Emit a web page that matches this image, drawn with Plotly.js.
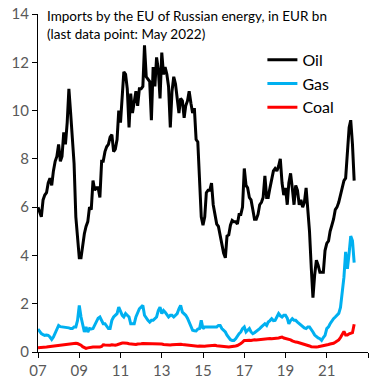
<!DOCTYPE html>
<html>
<head>
<meta charset="utf-8">
<script src="https://cdn.plot.ly/plotly-3.0.1.min.js"></script>
<style>html,body{margin:0;padding:0;background:#fff;}#chart{width:383px;height:381px;}</style>
</head>
<body>
<div id="chart"></div>
<script>
// Monthly data, Jan 2007 .. May 2022, EUR bn
const startYear = 2007;
const oil = [
  6.0, 5.8, 5.6, 6.3, 6.5, 6.6, 7.0, 7.2, 6.9, 7.5, 7.9, 8.1,
  8.6, 7.9, 8.1, 9.1, 8.6, 9.5, 10.9, 9.9, 8.8, 7.8, 5.6, 4.8,
  3.9, 3.9, 4.5, 4.9, 5.2, 5.4, 6.0, 5.9, 7.1, 6.7, 6.8, 6.8,
  6.4, 7.9, 7.9, 8.3, 8.5, 8.6, 8.9, 9.0, 8.3, 8.4, 8.8, 10.0,
  9.5, 10.7, 11.6, 11.5, 10.9, 9.3, 10.7, 9.9, 10.3, 10.8, 10.2, 10.9,
  10.9, 11.0, 12.7, 11.4, 11.3, 11.2, 9.6, 11.8, 11.0, 12.2, 11.7, 10.5,
  12.4, 11.5, 11.8, 11.5, 11.0, 9.3, 10.8, 11.4, 11.1, 10.6, 9.9, 10.5,
  10.4, 9.7, 10.2, 10.4, 10.8, 10.3, 9.9, 10.1, 8.8, 8.7, 7.3, 5.6,
  5.25, 5.6, 6.6, 6.7, 6.7, 7.0, 6.1, 5.7, 5.3, 5.2, 4.8, 4.4,
  4.1, 3.9, 4.8, 4.85, 5.25, 5.45, 5.4, 5.4, 5.3, 5.7, 5.7, 6.0,
  7.6, 6.9, 6.8, 6.4, 6.3, 5.9, 5.5, 5.5, 5.7, 6.1, 6.2, 6.4,
  7.3, 6.4, 6.4, 6.8, 7.2, 7.5, 7.6, 7.5, 7.7, 8.0, 7.0, 6.5,
  6.8, 6.1, 7.0, 7.4, 6.8, 6.1, 6.9, 6.7, 6.1, 6.3, 6.0, 6.2,
  6.8, 6.0, 5.0, 3.5, 2.25, 3.2, 3.8, 3.6, 3.3, 3.3, 3.3, 4.2,
  4.5, 4.6, 5.0, 5.25, 5.5, 5.9, 6.0, 6.2, 6.5, 6.9, 7.1, 7.2,
  8.3, 9.3, 9.6, 8.6, 7.1
];
const gas = [
  0.95, 0.85, 0.76, 0.72, 0.69, 0.70, 0.69, 0.62, 0.52, 0.62, 0.76, 0.95,
  1.10, 1.05, 1.04, 1.03, 1.04, 1.00, 1.00, 0.97, 0.97, 1.04, 1.04, 1.31,
  1.93, 1.45, 1.17, 0.83, 1.04, 0.83, 0.97, 0.95, 0.97, 1.10, 1.24, 1.40,
  1.45, 1.30, 1.17, 1.17, 1.04, 0.97, 0.97, 1.31, 1.45, 1.52, 1.59, 1.86,
  1.65, 1.52, 1.45, 1.59, 1.52, 1.45, 1.17, 1.17, 1.17, 1.45, 1.65, 1.79,
  1.86, 1.93, 1.52, 1.38, 1.31, 1.24, 1.31, 1.31, 1.38, 1.45, 1.72, 1.86,
  1.59, 1.72, 1.65, 1.52, 1.45, 1.52, 1.52, 1.45, 1.52, 1.59, 1.79, 1.93,
  1.65, 1.59, 1.52, 1.40, 1.24, 1.10, 0.90, 0.88, 0.87, 0.95, 0.97, 1.31,
  0.97, 1.04, 1.04, 1.07, 1.07, 1.07, 1.07, 1.07, 1.04, 1.10, 1.10, 0.97,
  0.90, 0.83, 0.70, 0.60, 0.51, 0.48, 0.48, 0.55, 0.69, 0.76, 0.83, 0.97,
  1.04, 0.83, 0.90, 0.97, 0.83, 0.76, 0.80, 0.85, 0.90, 0.97, 1.04, 1.10,
  1.17, 1.10, 1.24, 1.30, 1.38, 1.30, 1.31, 1.45, 1.59, 1.50, 1.45, 1.52,
  1.52, 1.40, 1.17, 1.30, 1.38, 1.31, 1.31, 1.24, 1.17, 1.10, 1.04, 1.00,
  0.97, 1.04, 1.04, 0.90, 0.83, 0.70, 0.62, 0.58, 0.55, 0.48, 0.60, 0.69,
  0.97, 1.04, 1.17, 1.30, 1.38, 1.45, 1.52, 1.60, 1.85, 2.50, 3.10, 4.15,
  3.45, 4.10, 4.80, 4.60, 3.70
];
const coal = [
  0.18, 0.18, 0.19, 0.20, 0.20, 0.21, 0.22, 0.23, 0.24, 0.24, 0.25, 0.26,
  0.27, 0.27, 0.28, 0.30, 0.30, 0.31, 0.32, 0.33, 0.34, 0.35, 0.36, 0.35,
  0.33, 0.28, 0.22, 0.17, 0.15, 0.17, 0.19, 0.20, 0.21, 0.21, 0.20, 0.21,
  0.21, 0.23, 0.30, 0.29, 0.28, 0.27, 0.28, 0.30, 0.28, 0.28, 0.30, 0.33,
  0.35, 0.37, 0.37, 0.38, 0.36, 0.34, 0.33, 0.32, 0.30, 0.31, 0.33, 0.35,
  0.34, 0.35, 0.35, 0.34, 0.35, 0.36, 0.34, 0.35, 0.35, 0.34, 0.33, 0.34,
  0.33, 0.31, 0.30, 0.29, 0.28, 0.29, 0.30, 0.31, 0.32, 0.30, 0.31, 0.32,
  0.31, 0.30, 0.29, 0.28, 0.26, 0.25, 0.24, 0.24, 0.23, 0.24, 0.25, 0.24,
  0.24, 0.24, 0.25, 0.26, 0.27, 0.28, 0.27, 0.28, 0.26, 0.25, 0.26, 0.24,
  0.22, 0.21, 0.21, 0.21, 0.22, 0.22, 0.22, 0.25, 0.27, 0.30, 0.35, 0.41,
  0.48, 0.48, 0.50, 0.49, 0.48, 0.50, 0.51, 0.50, 0.51, 0.52, 0.53, 0.54,
  0.55, 0.54, 0.55, 0.56, 0.55, 0.55, 0.56, 0.57, 0.58, 0.60, 0.62, 0.58,
  0.56, 0.55, 0.53, 0.50, 0.46, 0.42, 0.41, 0.40, 0.38, 0.36, 0.35, 0.34,
  0.31, 0.28, 0.25, 0.22, 0.21, 0.20, 0.21, 0.22, 0.23, 0.26, 0.28, 0.29,
  0.30, 0.31, 0.33, 0.34, 0.36, 0.40, 0.45, 0.50, 0.60, 0.70, 0.85, 0.70,
  0.70, 0.75, 0.76, 0.80, 1.15
];
const tickVals = ['2007-01-01','2009-01-01','2011-01-01','2013-01-01','2015-01-01','2017-01-01','2019-01-01','2021-01-01','2023-01-01'];
const tickText = ['07','09','11','13','15','17','19','21',''];
const seriesNames = ['Oil','Gas','Coal'];
const seriesColors = ['#000000','#00B0F0','#FF0000'];
const titleLines = ['Imports by the EU of Russian energy, in EUR bn', '(last data point: May 2022)'];

const months = oil.map((_, i) => {
  const y = startYear + Math.floor(i / 12);
  const m = (i % 12) + 1;
  return y + '-' + (m < 10 ? '0' + m : m) + '-01';
});

const FONT = 'Lato, "Open Sans", sans-serif';
const traces = [oil, gas, coal].map((vals, k) => ({
  x: months, y: vals, type: 'scatter', mode: 'lines',
  name: seriesNames[k],
  line: {color: seriesColors[k], width: 3}
}));

const titleY = [0.993, 0.940];
const annotations = titleLines.map((t, i) => ({
  text: t, xref: 'paper', yref: 'paper', x: 0.02, y: titleY[i],
  xanchor: 'left', yanchor: 'middle', showarrow: false,
  font: {family: FONT, size: 13.5, color: '#000000'}
}));

const layout = {
  width: 383, height: 381,
  margin: {l: 38, r: 15, t: 14, b: 29},
  paper_bgcolor: '#ffffff', plot_bgcolor: '#ffffff',
  font: {family: FONT, size: 15, color: '#595959'},
  annotations: annotations,
  showlegend: true,
  legend: {
    x: 0.68, xanchor: 'left', y: 0.915, yanchor: 'top',
    bgcolor: 'rgba(0,0,0,0)', borderwidth: 0,
    font: {family: FONT, size: 16, color: '#000000'}
  },
  xaxis: {
    type: 'date', range: ['2007-01-01', '2023-01-01'],
    tickmode: 'array', tickvals: tickVals, ticktext: tickText,
    showgrid: false, zeroline: false,
    showline: true, linecolor: '#000000', linewidth: 1,
    ticks: 'outside', ticklen: 5, tickcolor: '#000000',
    tickfont: {family: FONT, size: 15, color: '#595959'}
  },
  yaxis: {
    range: [0, 14], dtick: 2, tick0: 0,
    showgrid: false, zeroline: false,
    showline: true, linecolor: '#000000', linewidth: 1,
    ticks: 'outside', ticklen: 5, tickcolor: '#000000',
    tickfont: {family: FONT, size: 15, color: '#595959'}
  }
};

Plotly.newPlot('chart', traces, layout, {displayModeBar: false, staticPlot: true});
</script>
</body>
</html>
